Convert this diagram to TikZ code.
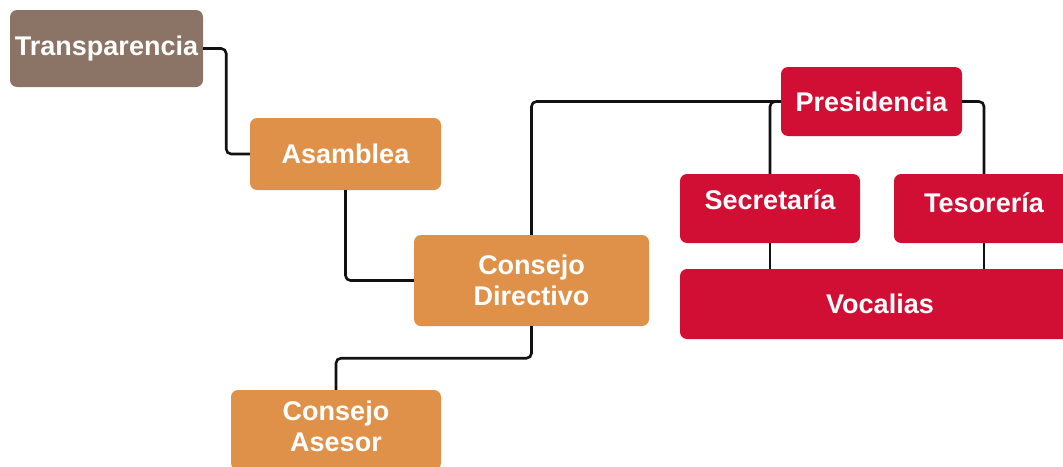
\documentclass[tikz,border=0pt]{standalone}
\usepackage{fontspec}
\setmainfont{Liberation Sans}
\definecolor{cbrown}{HTML}{8B7366}
\definecolor{corange}{HTML}{DF914A}
\definecolor{cred}{HTML}{D10F35}
\definecolor{cline}{HTML}{111111}
\tikzset{
  box/.style={rounded corners=7pt, inner sep=0pt, text=white, align=center,
    font=\fontsize{27}{31}\selectfont\bfseries},
  brownbox/.style={box, fill=cbrown},
  orangebox/.style={box, fill=corange},
  redbox/.style={box, fill=cred},
  conn/.style={draw=cline, line width=2.6pt, rounded corners=5pt}
}
\begin{document}
\begin{tikzpicture}[x=1pt,y=-1pt]
\useasboundingbox (0,0) rectangle (1063,466);
\node[brownbox, minimum width=193pt, minimum height=77pt] (T) at (106.5,48.5) {Transparencia};
\node[orangebox, minimum width=191pt, minimum height=72pt] (A) at (345.5,154) {Asamblea};
\node[orangebox, minimum width=235pt, minimum height=91pt] (CD) at (531.5,280.5) {Consejo\\Directivo};
\node[orangebox, minimum width=210pt, minimum height=80pt] (CA) at (336,430) {\raisebox{3pt}{\begin{tabular}{@{}c@{}}Consejo\\Asesor\end{tabular}}};
\node[redbox, minimum width=181pt, minimum height=69pt] (P) at (871.5,101.5) {Presidencia};
\node[redbox, minimum width=180pt, minimum height=69pt] (S) at (770,208.5) {\raisebox{-1pt}[0pt][0pt]{Secretaría}};
\node[redbox, minimum width=180pt, minimum height=69pt] (Ts) at (984,208.5) {\raisebox{-4pt}[0pt][0pt]{Tesorería}};
\node[redbox, minimum width=400pt, minimum height=70pt] (V) at (880,304) {Vocalias};
\draw[conn] (T.east) -- ++(23,0) |- (A.west);
\draw[conn] (A.south) |- (CD.west);
\draw[conn] (CD.north) |- (P.west);
\draw[conn] (CD.south) -- ++(0,32) -| (CA.north);
\draw[conn] (P.west) -| (S.north);
\draw[conn] (P.east) -| (Ts.north);
\draw[conn, rounded corners=0pt] (S.south) -- (S.south |- V.north);
\draw[conn, rounded corners=0pt] (Ts.south) -- (Ts.south |- V.north);
\end{tikzpicture}
\end{document}
